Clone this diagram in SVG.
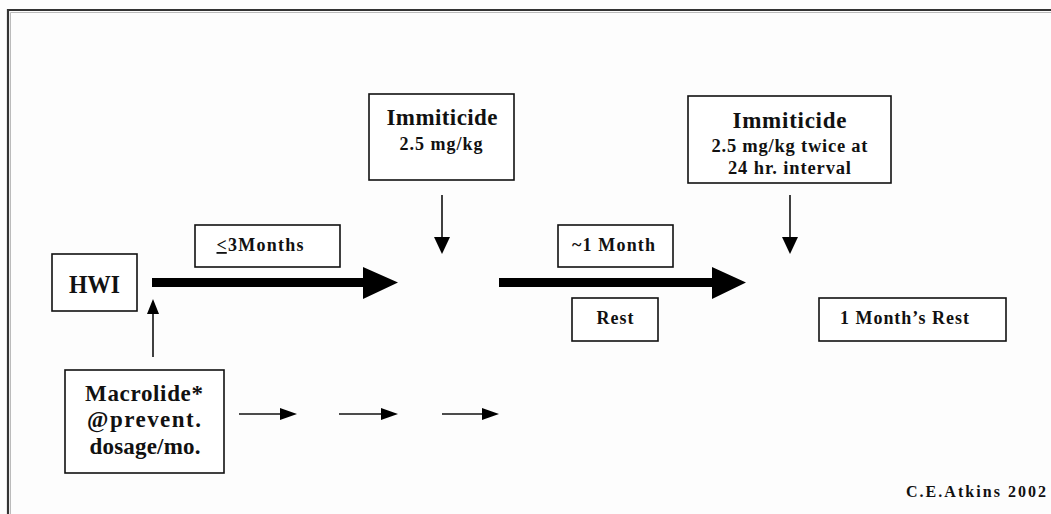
<svg xmlns="http://www.w3.org/2000/svg" width="1051" height="514" viewBox="0 0 1051 514">
<style>
.box{fill:#fff;stroke:#111;stroke-width:1.6}
.t{font-weight:bold;fill:#111;text-anchor:middle}
.ln{stroke:#111;stroke-width:1.6;fill:none}
.hd{fill:#000}
</style>
<rect x="0" y="0" width="1051" height="514" fill="#fdfdfd"/>
<path d="M8 530 V10 H1060" fill="none" stroke="#333" stroke-width="2.2"/>
<path d="M10.5 530 V12.5 H1060" fill="none" stroke="#aaa" stroke-width="0.8"/>

<g font-family="Liberation Serif, Times New Roman, serif">
<g id="hwi">
<rect class="box" x="52" y="254" width="85" height="57"/>
<text class="t" x="94.5" y="293" font-size="25" font-weight="normal" textLength="51" lengthAdjust="spacingAndGlyphs">HWI</text>
</g>
<g id="le3months">
<rect class="box" x="195" y="225" width="145" height="42"/>
<text class="t" x="260" y="251" font-size="18" textLength="87" lengthAdjust="spacing"><tspan text-decoration="underline">&lt;</tspan>3Months</text>
</g>
<g id="immiticide1">
<rect class="box" x="369" y="94" width="145" height="86"/>
<text class="t" x="442" y="125" font-size="23" textLength="111" lengthAdjust="spacing">Immiticide</text>
<text class="t" x="441" y="150" font-size="18" textLength="83" lengthAdjust="spacing">2.5 mg/kg</text>
</g>
<g id="one-month">
<rect class="box" x="558" y="225" width="115" height="42"/>
<text class="t" x="613.5" y="251" font-size="18" textLength="83" lengthAdjust="spacing">~1 Month</text>
</g>
<g id="rest">
<rect class="box" x="572" y="298" width="86" height="43"/>
<text class="t" x="615" y="324" font-size="18" textLength="37" lengthAdjust="spacing">Rest</text>
</g>
<g id="immiticide2">
<rect class="box" x="688" y="96" width="203" height="87"/>
<text class="t" x="789.5" y="128" font-size="23" textLength="114" lengthAdjust="spacing">Immiticide</text>
<text class="t" x="789.5" y="152" font-size="18.5" textLength="156" lengthAdjust="spacing">2.5 mg/kg twice at</text>
<text class="t" x="789.5" y="174" font-size="18.5" textLength="123" lengthAdjust="spacing">24 hr. interval</text>
</g>
<g id="month-rest">
<rect class="box" x="819" y="298" width="187" height="43"/>
<text class="t" x="904.5" y="324" font-size="18" textLength="129" lengthAdjust="spacing">1 Month’s Rest</text>
</g>
<g id="macrolide">
<rect class="box" x="65" y="370" width="159" height="103"/>
<text class="t" x="144" y="401" font-size="23" textLength="118" lengthAdjust="spacing">Macrolide*</text>
<text class="t" x="144" y="427" font-size="23" textLength="114" lengthAdjust="spacing">@prevent.</text>
<text class="t" x="145" y="454" font-size="23" textLength="111" lengthAdjust="spacing">dosage/mo.</text>
</g>
<g id="credit">
<text class="t" x="976" y="497" font-size="16" textLength="140" lengthAdjust="spacing">C.E.Atkins 2002</text>
</g>
</g>

<g id="connectors">
<polygon class="hd" points="152,278 363,278 363,267 398,282.5 363,299 363,287 152,287"/>
<polygon class="hd" points="499,278 712,278 712,267 746,282.5 712,299 712,287 499,287"/>
<line class="ln" x1="153" y1="357" x2="153" y2="312"/>
<polygon class="hd" points="153,299 147,314 159,314"/>
<line class="ln" x1="442" y1="195" x2="442" y2="240"/>
<polygon class="hd" points="434,237 450,237 442,254"/>
<line class="ln" x1="790" y1="195" x2="790" y2="240"/>
<polygon class="hd" points="782,237 798,237 790,254"/>
<line class="ln" x1="239" y1="414" x2="282" y2="414"/>
<polygon class="hd" points="280,408 297,414 280,420"/>
<line class="ln" x1="339" y1="414" x2="383" y2="414"/>
<polygon class="hd" points="381,408 398,414 381,420"/>
<line class="ln" x1="442" y1="414" x2="484" y2="414"/>
<polygon class="hd" points="482,408 499,414 482,420"/>
</g>
</svg>
